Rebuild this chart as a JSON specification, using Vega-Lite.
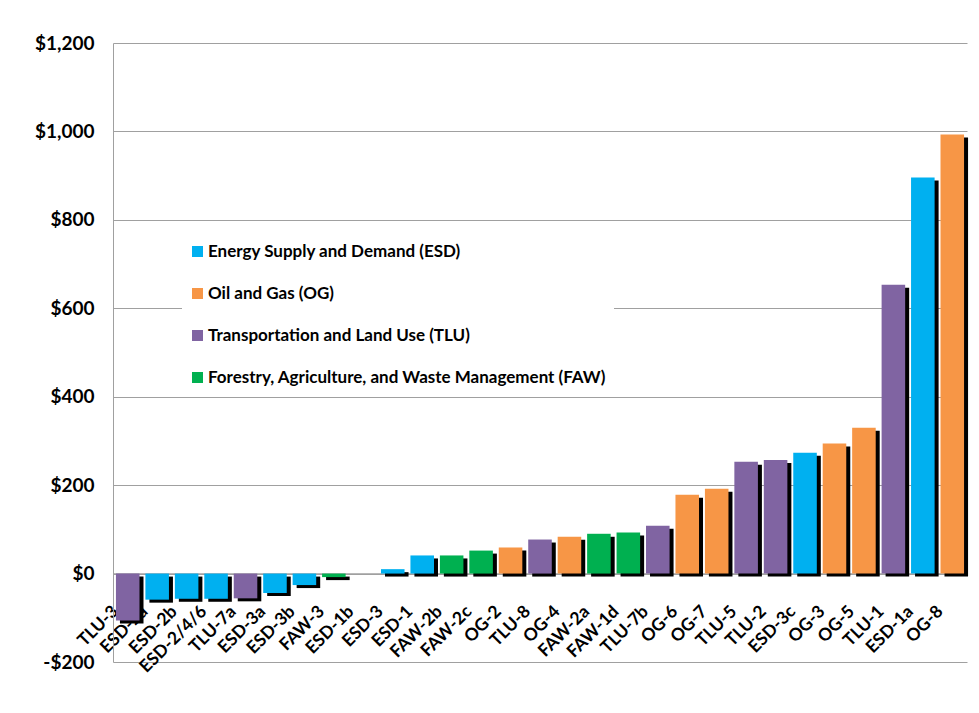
{
  "$schema": "https://vega.github.io/schema/vega-lite/v6.json",
  "width": 854,
  "height": 619,
  "autosize": {"type": "none"},
  "padding": {"left": 113, "top": 43, "right": 12, "bottom": 51},
  "background": "white",
  "config": {
    "font": "Lato",
    "view": {"stroke": null},
    "locale": {"number": {"decimal": ".", "thousands": ",", "grouping": [3], "currency": ["$", ""], "minus": "-"}}
  },
  "data": {
    "values": [
      {"code": "TLU-3", "sector": "Transportation and Land Use (TLU)", "value": -106},
      {"code": "ESD-2a", "sector": "Energy Supply and Demand (ESD)", "value": -59},
      {"code": "ESD-2b", "sector": "Energy Supply and Demand (ESD)", "value": -57},
      {"code": "ESD-2/4/6", "sector": "Energy Supply and Demand (ESD)", "value": -57},
      {"code": "TLU-7a", "sector": "Transportation and Land Use (TLU)", "value": -56},
      {"code": "ESD-3a", "sector": "Energy Supply and Demand (ESD)", "value": -44},
      {"code": "ESD-3b", "sector": "Energy Supply and Demand (ESD)", "value": -26},
      {"code": "FAW-3", "sector": "Forestry, Agriculture, and Waste Management (FAW)", "value": -8},
      {"code": "ESD-1b", "sector": "Energy Supply and Demand (ESD)", "value": 0},
      {"code": "ESD-3", "sector": "Energy Supply and Demand (ESD)", "value": 10},
      {"code": "ESD-1", "sector": "Energy Supply and Demand (ESD)", "value": 41},
      {"code": "FAW-2b", "sector": "Forestry, Agriculture, and Waste Management (FAW)", "value": 41},
      {"code": "FAW-2c", "sector": "Forestry, Agriculture, and Waste Management (FAW)", "value": 52},
      {"code": "OG-2", "sector": "Oil and Gas (OG)", "value": 59},
      {"code": "TLU-8", "sector": "Transportation and Land Use (TLU)", "value": 77},
      {"code": "OG-4", "sector": "Oil and Gas (OG)", "value": 83},
      {"code": "FAW-2a", "sector": "Forestry, Agriculture, and Waste Management (FAW)", "value": 90},
      {"code": "FAW-1d", "sector": "Forestry, Agriculture, and Waste Management (FAW)", "value": 93},
      {"code": "TLU-7b", "sector": "Transportation and Land Use (TLU)", "value": 108},
      {"code": "OG-6", "sector": "Oil and Gas (OG)", "value": 178},
      {"code": "OG-7", "sector": "Oil and Gas (OG)", "value": 192},
      {"code": "TLU-5", "sector": "Transportation and Land Use (TLU)", "value": 253},
      {"code": "TLU-2", "sector": "Transportation and Land Use (TLU)", "value": 257},
      {"code": "ESD-3c", "sector": "Energy Supply and Demand (ESD)", "value": 273},
      {"code": "OG-3", "sector": "Oil and Gas (OG)", "value": 294},
      {"code": "OG-5", "sector": "Oil and Gas (OG)", "value": 330},
      {"code": "TLU-1", "sector": "Transportation and Land Use (TLU)", "value": 653},
      {"code": "ESD-1a", "sector": "Energy Supply and Demand (ESD)", "value": 896},
      {"code": "OG-8", "sector": "Oil and Gas (OG)", "value": 993}
    ]
  },
  "encoding": {
    "x": {
      "field": "code",
      "type": "nominal",
      "sort": null,
      "scale": {"paddingInner": 0.2, "paddingOuter": 0.1},
      "axis": {
        "title": null,
        "offset": -88.43,
        "ticks": false,
        "grid": false,
        "domainColor": "#A0A0A0",
        "domainWidth": 1.5,
        "labelAngle": -45,
        "labelAlign": "right",
        "labelBaseline": "middle",
        "labelFontSize": 17.5,
        "labelFontWeight": "bold",
        "labelColor": "black",
        "labelPadding": 35,
        "labelOffset": -12,
        "labelOverlap": false
      }
    },
    "y": {
      "field": "value",
      "type": "quantitative",
      "scale": {"domain": [-200, 1200], "nice": false},
      "axis": {
        "title": null,
        "values": [-200, 0, 200, 400, 600, 800, 1000, 1200],
        "format": "$,.0f",
        "ticks": false,
        "domainColor": "#A0A0A0",
        "gridColor": "#A0A0A0",
        "labelFontSize": 19,
        "labelFontWeight": "bold",
        "labelColor": "black",
        "labelPadding": 19
      }
    }
  },
  "layer": [
    {
      "mark": {"type": "bar", "color": "black", "xOffset": 4, "yOffset": 3, "y2Offset": 3}
    },
    {
      "mark": {"type": "bar"},
      "encoding": {
        "color": {
          "field": "sector",
          "type": "nominal",
          "scale": {
            "domain": ["Energy Supply and Demand (ESD)", "Oil and Gas (OG)", "Transportation and Land Use (TLU)", "Forestry, Agriculture, and Waste Management (FAW)"],
            "range": ["#00B0F0", "#F79646", "#8064A2", "#00B050"]
          },
          "legend": {
            "title": null,
            "orient": "none",
            "legendX": 69,
            "legendY": 193,
            "padding": 7,
            "fillColor": "white",
            "labelFontSize": 17,
            "labelFontWeight": "bold",
            "labelColor": "black",
            "labelLimit": 600,
            "labelOffset": 2,
            "symbolType": "square",
            "symbolSize": 121,
            "symbolStrokeWidth": 0,
            "symbolOpacity": 1,
            "rowPadding": 24
          }
        }
      }
    }
  ]
}
